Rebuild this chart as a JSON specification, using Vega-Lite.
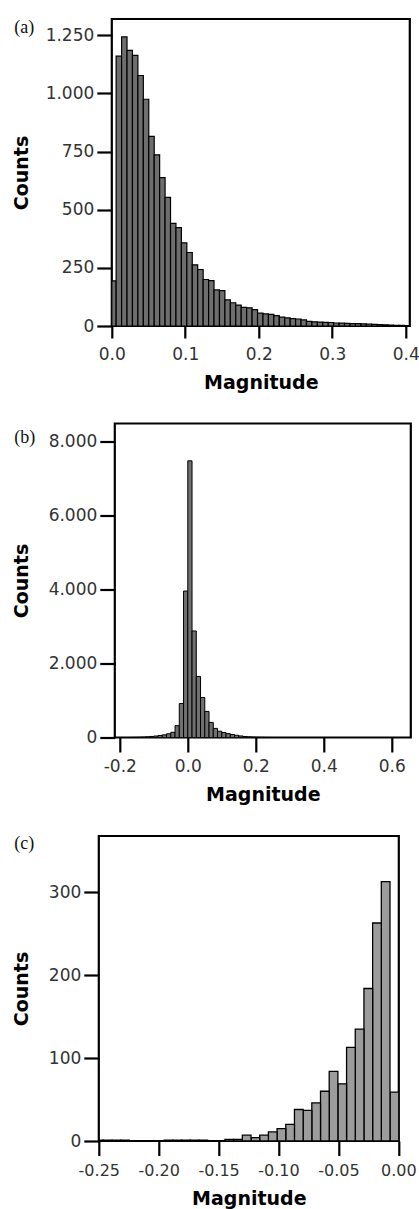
{
  "$schema": "https://vega.github.io/schema/vega-lite/v6.json",
  "background": "white",
  "padding": {"left": 0, "top": 17, "right": 0, "bottom": 0},
  "datasets": {
    "a": [
      {"start": 0, "end": 0.0059, "count": 194},
      {"start": 0.0059, "end": 0.0133, "count": 1160},
      {"start": 0.0133, "end": 0.0207, "count": 1243},
      {"start": 0.0207, "end": 0.0281, "count": 1185},
      {"start": 0.0281, "end": 0.0355, "count": 1164},
      {"start": 0.0355, "end": 0.0429, "count": 1077},
      {"start": 0.0429, "end": 0.0503, "count": 975},
      {"start": 0.0503, "end": 0.0577, "count": 815},
      {"start": 0.0577, "end": 0.0651, "count": 736},
      {"start": 0.0651, "end": 0.0725, "count": 638},
      {"start": 0.0725, "end": 0.0799, "count": 553},
      {"start": 0.0799, "end": 0.0873, "count": 441},
      {"start": 0.0873, "end": 0.0947, "count": 423},
      {"start": 0.0947, "end": 0.1021, "count": 357},
      {"start": 0.1021, "end": 0.1095, "count": 316},
      {"start": 0.1095, "end": 0.1169, "count": 263},
      {"start": 0.1169, "end": 0.1243, "count": 243},
      {"start": 0.1243, "end": 0.1317, "count": 200},
      {"start": 0.1317, "end": 0.1391, "count": 195},
      {"start": 0.1391, "end": 0.1465, "count": 155},
      {"start": 0.1465, "end": 0.1539, "count": 152},
      {"start": 0.1539, "end": 0.1613, "count": 112},
      {"start": 0.1613, "end": 0.1687, "count": 100},
      {"start": 0.1687, "end": 0.1761, "count": 90},
      {"start": 0.1761, "end": 0.1835, "count": 80},
      {"start": 0.1835, "end": 0.1909, "count": 78},
      {"start": 0.1909, "end": 0.1983, "count": 70},
      {"start": 0.1983, "end": 0.2057, "count": 55},
      {"start": 0.2057, "end": 0.2131, "count": 52},
      {"start": 0.2131, "end": 0.2205, "count": 50},
      {"start": 0.2205, "end": 0.2279, "count": 45},
      {"start": 0.2279, "end": 0.2353, "count": 38},
      {"start": 0.2353, "end": 0.2427, "count": 35},
      {"start": 0.2427, "end": 0.2501, "count": 32},
      {"start": 0.2501, "end": 0.2575, "count": 30},
      {"start": 0.2575, "end": 0.2649, "count": 26},
      {"start": 0.2649, "end": 0.2723, "count": 20},
      {"start": 0.2723, "end": 0.2797, "count": 18},
      {"start": 0.2797, "end": 0.2871, "count": 17},
      {"start": 0.2871, "end": 0.2945, "count": 16},
      {"start": 0.2945, "end": 0.3019, "count": 15},
      {"start": 0.3019, "end": 0.3093, "count": 13},
      {"start": 0.3093, "end": 0.3167, "count": 12},
      {"start": 0.3167, "end": 0.3241, "count": 11},
      {"start": 0.3241, "end": 0.3315, "count": 10},
      {"start": 0.3315, "end": 0.3389, "count": 10},
      {"start": 0.3389, "end": 0.3463, "count": 9},
      {"start": 0.3463, "end": 0.3537, "count": 8},
      {"start": 0.3537, "end": 0.3611, "count": 7},
      {"start": 0.3611, "end": 0.3685, "count": 6},
      {"start": 0.3685, "end": 0.3759, "count": 5},
      {"start": 0.3759, "end": 0.3833, "count": 4},
      {"start": 0.3833, "end": 0.3907, "count": 3},
      {"start": 0.3907, "end": 0.3981, "count": 3},
      {"start": 0.3981, "end": 0.4055, "count": 2}
    ],
    "b": [
      {"start": -0.175, "end": -0.1625, "count": 1},
      {"start": -0.1625, "end": -0.15, "count": 3},
      {"start": -0.15, "end": -0.1375, "count": 6},
      {"start": -0.1375, "end": -0.125, "count": 11},
      {"start": -0.125, "end": -0.1125, "count": 18},
      {"start": -0.1125, "end": -0.1, "count": 28},
      {"start": -0.1, "end": -0.0875, "count": 40},
      {"start": -0.0875, "end": -0.075, "count": 55},
      {"start": -0.075, "end": -0.0625, "count": 72},
      {"start": -0.0625, "end": -0.05, "count": 100},
      {"start": -0.05, "end": -0.0375, "count": 140},
      {"start": -0.0375, "end": -0.025, "count": 320},
      {"start": -0.025, "end": -0.0125, "count": 920},
      {"start": -0.0125, "end": 0, "count": 3960},
      {"start": 0, "end": 0.0125, "count": 7480},
      {"start": 0.0125, "end": 0.025, "count": 2880},
      {"start": 0.025, "end": 0.0375, "count": 1650},
      {"start": 0.0375, "end": 0.05, "count": 1082},
      {"start": 0.05, "end": 0.0625, "count": 705},
      {"start": 0.0625, "end": 0.075, "count": 408},
      {"start": 0.075, "end": 0.0875, "count": 246},
      {"start": 0.0875, "end": 0.1, "count": 170},
      {"start": 0.1, "end": 0.1125, "count": 135},
      {"start": 0.1125, "end": 0.125, "count": 105},
      {"start": 0.125, "end": 0.1375, "count": 80},
      {"start": 0.1375, "end": 0.15, "count": 60},
      {"start": 0.15, "end": 0.1625, "count": 42},
      {"start": 0.1625, "end": 0.175, "count": 28},
      {"start": 0.175, "end": 0.1875, "count": 17},
      {"start": 0.1875, "end": 0.2, "count": 10},
      {"start": 0.2, "end": 0.2125, "count": 6},
      {"start": 0.2125, "end": 0.225, "count": 4},
      {"start": 0.225, "end": 0.2375, "count": 2},
      {"start": 0.2375, "end": 0.25, "count": 1}
    ],
    "c": [
      {"start": -0.00695, "end": 0.0003, "count": 59},
      {"start": -0.0142, "end": -0.00695, "count": 313},
      {"start": -0.02145, "end": -0.0142, "count": 263},
      {"start": -0.0287, "end": -0.02145, "count": 184},
      {"start": -0.03595, "end": -0.0287, "count": 135},
      {"start": -0.0432, "end": -0.03595, "count": 113},
      {"start": -0.05045, "end": -0.0432, "count": 69},
      {"start": -0.0577, "end": -0.05045, "count": 84},
      {"start": -0.06495, "end": -0.0577, "count": 60},
      {"start": -0.0722, "end": -0.06495, "count": 46},
      {"start": -0.07945, "end": -0.0722, "count": 37},
      {"start": -0.0867, "end": -0.07945, "count": 38},
      {"start": -0.09395, "end": -0.0867, "count": 20},
      {"start": -0.1012, "end": -0.09395, "count": 15},
      {"start": -0.10845, "end": -0.1012, "count": 11},
      {"start": -0.1157, "end": -0.10845, "count": 7},
      {"start": -0.12295, "end": -0.1157, "count": 4},
      {"start": -0.1302, "end": -0.12295, "count": 7},
      {"start": -0.13745, "end": -0.1302, "count": 2},
      {"start": -0.1447, "end": -0.13745, "count": 2},
      {"start": -0.16645, "end": -0.1592, "count": 1},
      {"start": -0.1737, "end": -0.16645, "count": 1},
      {"start": -0.18095, "end": -0.1737, "count": 1},
      {"start": -0.1882, "end": -0.18095, "count": 1},
      {"start": -0.19545, "end": -0.1882, "count": 1},
      {"start": -0.2317, "end": -0.22445, "count": 1},
      {"start": -0.23895, "end": -0.2317, "count": 1},
      {"start": -0.2462, "end": -0.23895, "count": 1},
      {"start": -0.25345, "end": -0.2462, "count": 1}
    ]
  },
  "vconcat": [
    {"hconcat": [
      {"width": 1, "height": 1, "view": {"fill": "white", "stroke": null}, "data": {"values": []}, "mark": "point"},
      {
        "width": 298,
        "height": 307,
        "title": {"text": "(a)", "anchor": "start", "frame": "bounds", "orient": "top", "offset": -17.5, "dx": 2, "font": "Liberation Serif", "fontSize": 18, "fontWeight": "normal", "color": "#111"},
        "data": {"name": "a"},
        "mark": {"type": "bar", "fill": "#6e6e6e", "stroke": "#000", "strokeWidth": 1.2, "clip": true},
        "encoding": {
          "x": {"field": "start", "type": "quantitative", "scale": {"domain": [0, 0.4055], "nice": false, "zero": false},
            "axis": {"title": "Magnitude", "values": [0, 0.1, 0.2, 0.3, 0.4], "labelExpr": "replace(format(datum.value, '.1f'), '\u2212', '-')", "tickSize": 12, "labelPadding": 8.5, "titlePadding": 11}},
          "x2": {"field": "end"},
          "y": {"field": "count", "type": "quantitative", "scale": {"domain": [0, 1320], "nice": false},
            "axis": {"title": "Counts", "values": [0, 250, 500, 750, 1000, 1250], "labelExpr": "replace(format(datum.value, ','), ',', '.')", "titleX": -80.5}},
          "y2": {"datum": 0}
        }
      }
    ], "spacing": 9.8},
    {"hconcat": [
      {"width": 1, "height": 1, "view": {"fill": "white", "stroke": null}, "data": {"values": []}, "mark": "point"},
      {
        "width": 296,
        "height": 314,
        "title": {"text": "(b)", "anchor": "start", "frame": "bounds", "orient": "top", "offset": -23, "dx": 2, "font": "Liberation Serif", "fontSize": 18, "fontWeight": "normal", "color": "#111"},
        "data": {"name": "b"},
        "mark": {"type": "bar", "fill": "#707070", "stroke": "#000", "strokeWidth": 1, "clip": true},
        "encoding": {
          "x": {"field": "start", "type": "quantitative", "scale": {"domain": [-0.2147, 0.656], "nice": false, "zero": false},
            "axis": {"title": "Magnitude", "values": [-0.2, 0, 0.2, 0.4, 0.6], "labelExpr": "replace(format(datum.value, '.1f'), '\u2212', '-')", "tickSize": 14.5, "labelPadding": 6, "titlePadding": 11}},
          "x2": {"field": "end"},
          "y": {"field": "count", "type": "quantitative", "scale": {"domain": [0, 8490], "nice": false},
            "axis": {"title": "Counts", "values": [0, 2000, 4000, 6000, 8000], "labelExpr": "replace(format(datum.value, ','), ',', '.')", "titleX": -83.5}},
          "y2": {"datum": 0}
        }
      }
    ], "spacing": 9.8},
    {"hconcat": [
      {"width": 1, "height": 1, "view": {"fill": "white", "stroke": null}, "data": {"values": []}, "mark": "point"},
      {
        "width": 300,
        "height": 305,
        "title": {"text": "(c)", "anchor": "start", "frame": "bounds", "orient": "top", "offset": -16.5, "dx": 2, "font": "Liberation Serif", "fontSize": 18, "fontWeight": "normal", "color": "#111"},
        "data": {"name": "c"},
        "mark": {"type": "bar", "fill": "#9c9c9c", "stroke": "#000", "strokeWidth": 1.3, "clip": true},
        "encoding": {
          "x": {"field": "start", "type": "quantitative", "scale": {"domain": [-0.25, 0.0004], "nice": false, "zero": false},
            "axis": {"title": "Magnitude", "values": [-0.25, -0.2, -0.15, -0.1, -0.05, 0], "labelExpr": "replace(format(datum.value, '.2f'), '\u2212', '-')", "labelFontSize": 16, "tickSize": 14.5, "labelPadding": 6.5, "titlePadding": 11}},
          "x2": {"field": "end"},
          "y": {"field": "count", "type": "quantitative", "scale": {"domain": [0, 368], "nice": false},
            "axis": {"title": "Counts", "values": [0, 100, 200, 300], "labelExpr": "replace(format(datum.value, ','), ',', '.')", "titleX": -67.5}},
          "y2": {"datum": 0}
        }
      }
    ], "spacing": 9.8}
  ],
  "spacing": 27.5,
  "config": {
    "view": {"stroke": "#000", "strokeWidth": 2.2},
    "axis": {"grid": false, "domain": false, "tickColor": "#000", "tickWidth": 2.2, "labelFont": "DejaVu Sans", "labelFontSize": 17, "labelColor": "#333", "titleFont": "DejaVu Sans", "titleFontSize": 19, "titleFontWeight": "bold", "titleColor": "#000", "labelOverlap": false, "labelFlush": false},
    "axisY": {"tickSize": 15, "labelPadding": 3}
  }
}
